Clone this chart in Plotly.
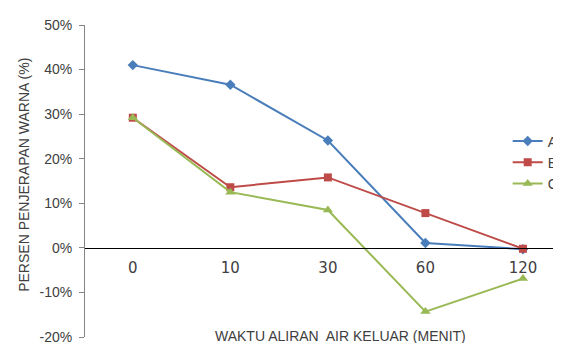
import plotly.graph_objects as go

categories = ["0", "10", "30", "60", "120"]
series_names = ["A", "B", "C"]
values_a = [41.0, 36.6, 24.1, 1.1, -0.3]
values_b = [29.2, 13.6, 15.8, 7.8, -0.2]
values_c = [29.2, 12.5, 8.5, -14.3, -6.9]
y_ticks = [-20, -10, 0, 10, 20, 30, 40, 50]

colors = ["#4A7EBB", "#BE4B48", "#98B954"]
symbols = ["diamond", "square", "triangle-up"]
sizes = [8, 8, 9]

fig = go.Figure()
for name, vals, c, s, sz in zip(series_names, [values_a, values_b, values_c], colors, symbols, sizes):
    fig.add_trace(go.Scatter(
        x=list(range(len(categories))), y=vals, name=name, mode="lines+markers",
        line=dict(color=c, width=2), marker=dict(symbol=s, size=sz, color=c),
    ))

font = "Liberation Sans"
fig.update_layout(
    width=553, height=335,
    margin=dict(l=77, r=0, t=17, b=6, autoexpand=False),
    plot_bgcolor="white", paper_bgcolor="white",
    showlegend=True,
    legend=dict(x=0.888, y=0.678, xanchor="left", yanchor="top",
                font=dict(family=font, size=14, color="#404040"),
                bgcolor="rgba(255,255,255,0)", itemwidth=30, tracegroupgap=0),
    xaxis=dict(
        range=[-0.49, 4.39], tickmode="array",
        tickvals=list(range(len(categories))), ticktext=categories,
        anchor="free", position=20/70,
        showline=True, linecolor="black", linewidth=1,
        showgrid=False, zeroline=False, ticks="",
        tickfont=dict(family="DejaVu Sans", size=15, color="#404040"),
        ticklabelstandoff=6,
    ),
    yaxis=dict(
        range=[-20, 50], tickmode="array", tickvals=y_ticks,
        ticktext=[f"{v}%" for v in y_ticks],
        showline=True, linecolor="#868686", linewidth=1,
        ticks="outside", ticklen=5, tickcolor="#868686",
        showgrid=False, zeroline=False, ticklabeloverflow="allow",
        tickfont=dict(family=font, size=14, color="#404040"),
        ticklabelstandoff=4,
    ),
    annotations=[
        dict(text="PERSEN PENJERAPAN WARNA (%)", xref="paper", yref="paper",
             x=-0.128, y=0.52, textangle=-90, showarrow=False,
             xanchor="center", yanchor="middle",
             font=dict(family=font, size=14, color="#404040")),
        dict(text="WAKTU ALIRAN  AIR KELUAR (MENIT)", xref="paper", yref="paper",
             x=0.536, y=0.004, showarrow=False, xanchor="center", yanchor="middle",
             font=dict(family=font, size=14, color="#404040")),
    ],
)

fig.write_html("out.html")
